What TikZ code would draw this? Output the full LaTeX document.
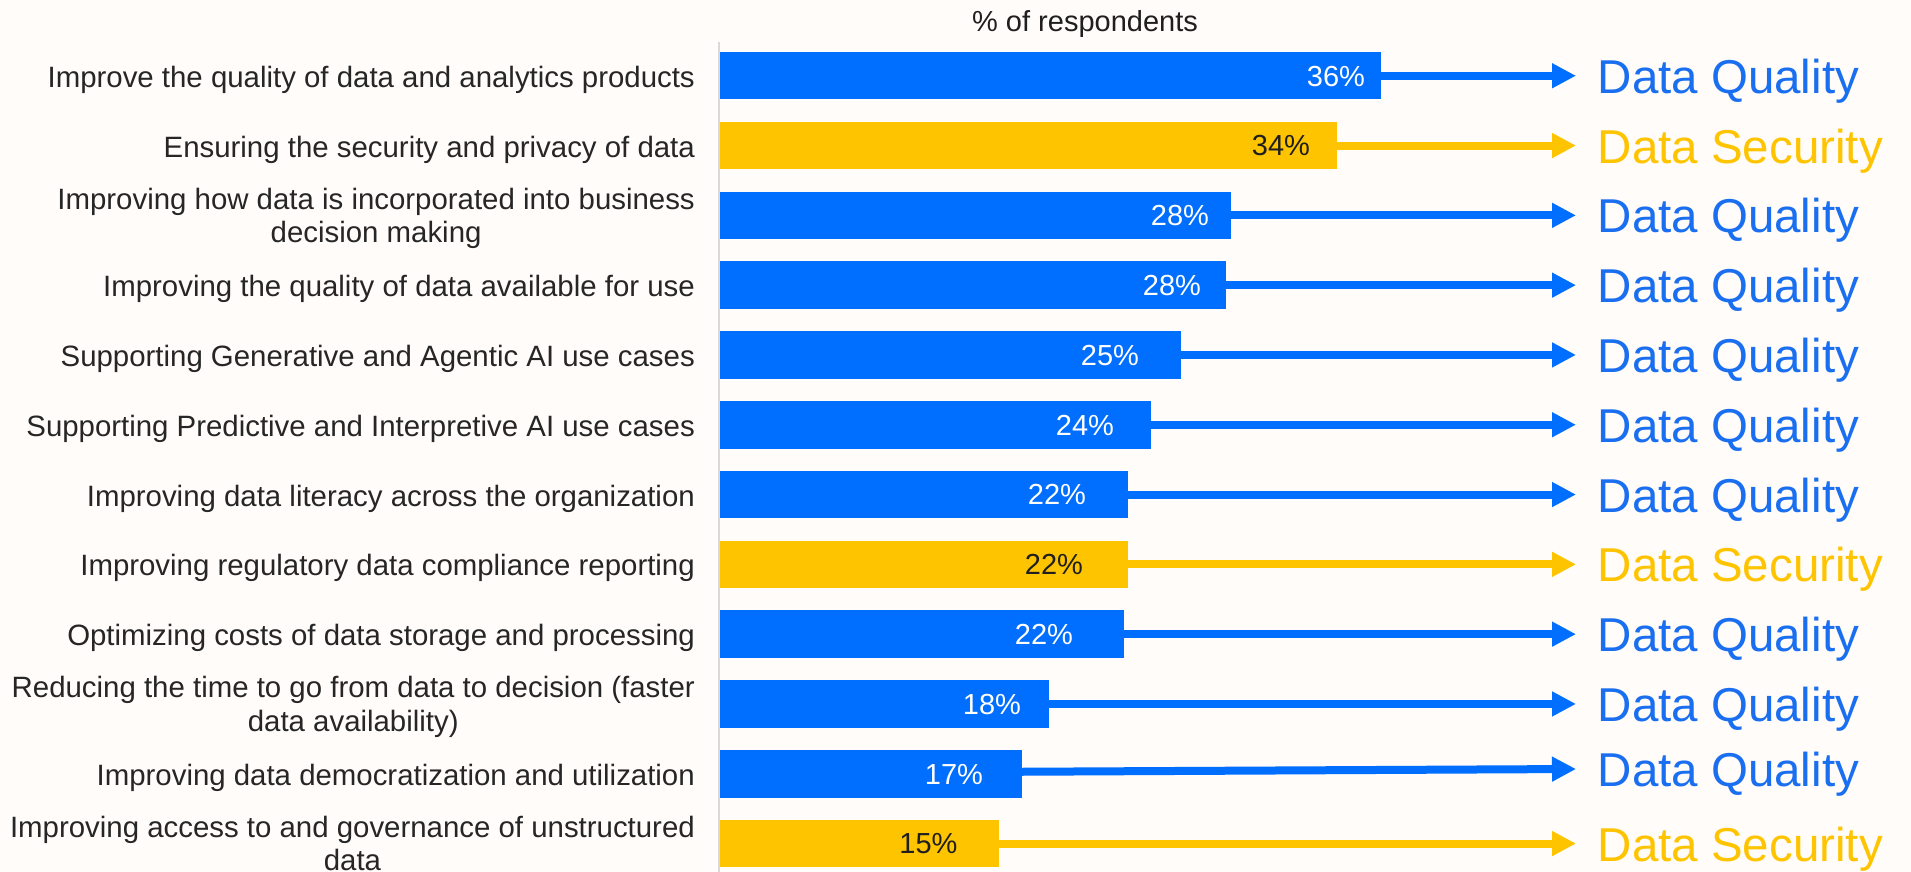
\documentclass[tikz,border=0pt]{standalone}
\usepackage{fontspec}
\setmainfont{Liberation Sans}
\usetikzlibrary{arrows.meta}
\definecolor{bg}{RGB}{255,252,249}
\definecolor{qblue}{RGB}{0,110,255}
\definecolor{qtext}{RGB}{26,111,240}
\definecolor{syellow}{RGB}{255,196,0}
\definecolor{axisgray}{RGB}{217,217,217}
\definecolor{txt}{RGB}{38,38,38}
\newcommand{\labfont}{\fontsize{29.4}{33.4}\selectfont}
\newcommand{\pctfont}{\fontsize{29}{33}\selectfont}
\newcommand{\catfont}{\fontsize{47.5}{55}\selectfont}
\begin{document}
\begin{tikzpicture}[x=1pt,y=-1pt,
  bar/.style={rectangle, inner sep=0pt, outer sep=0pt, minimum height=47.5pt, anchor=west, draw=none},
  qbar/.style={bar, fill=qblue},
  sbar/.style={bar, fill=syellow},
  pct/.style={inner sep=0pt, anchor=base, font=\pctfont},
  qpct/.style={pct, text=white},
  spct/.style={pct, text=black!88},
  lab/.style={inner sep=0pt, anchor=east, align=center, font=\labfont, text=txt},
  cat/.style={inner sep=0pt, anchor=base west, font=\catfont},
  qcat/.style={cat, text=qtext},
  scat/.style={cat, text=syellow},
  conn/.style={line width=8pt, -{Triangle[length=24pt,width=23.5pt]}},
  qconn/.style={conn, draw=qblue},
  sconn/.style={conn, draw=syellow}
]
\useasboundingbox (0,0) rectangle (1911,872);
\fill[bg] (0,0) rectangle (1911,872);

% title and axis
\node[inner sep=0pt, anchor=base, font=\pctfont, text=black!88] (title) at (1085,31.7) {\% of respondents};
\coordinate (axtop) at (719,42);
\coordinate (axbot) at (719,872);
\draw[axisgray, line width=2pt] (axtop) -- (axbot);

% row 1
\node[qbar, minimum width=661pt] (b1) at (720,75.75) {};
\node[qpct] (p1) at (1336,86.15) {36\%};
\coordinate (t1) at (1576,75.75);
\draw[qconn] (b1.east) -- (t1);
\node[qcat] (c1) at (1597.5,93.25) {Data Quality};
\node[lab] (l1) at (695,80.55) {\strut Improve the quality of data and analytics products};

% row 2
\node[sbar, minimum width=617pt] (b2) at (720,145.55) {};
\node[spct] (p2) at (1281,155.95) {34\%};
\coordinate (t2) at (1576,145.55);
\draw[sconn] (b2.east) -- (t2);
\node[scat] (c2) at (1597.5,163.05) {Data Security};
\node[lab] (l2) at (695,150.35) {\strut Ensuring the security and privacy of data};

% row 3
\node[qbar, minimum width=511pt] (b3) at (720,215.35) {};
\node[qpct] (p3) at (1180,225.75) {28\%};
\coordinate (t3) at (1576,215.35);
\draw[qconn] (b3.east) -- (t3);
\node[qcat] (c3) at (1597.5,232.85) {Data Quality};
\node[lab] (l3) at (695,219.3) {\strut Improving how data is incorporated into business\\\strut decision making};

% row 4
\node[qbar, minimum width=506pt] (b4) at (720,285.15) {};
\node[qpct] (p4) at (1172,295.55) {28\%};
\coordinate (t4) at (1576,285.15);
\draw[qconn] (b4.east) -- (t4);
\node[qcat] (c4) at (1597.5,302.65) {Data Quality};
\node[lab] (l4) at (695,289.95) {\strut Improving the quality of data available for use};

% row 5
\node[qbar, minimum width=460.7pt] (b5) at (720,354.95) {};
\node[qpct] (p5) at (1110,365.35) {25\%};
\coordinate (t5) at (1576,354.95);
\draw[qconn] (b5.east) -- (t5);
\node[qcat] (c5) at (1597.5,372.45) {Data Quality};
\node[lab] (l5) at (695,359.75) {\strut Supporting Generative and Agentic AI use cases};

% row 6
\node[qbar, minimum width=431pt] (b6) at (720,424.75) {};
\node[qpct] (p6) at (1085,435.15) {24\%};
\coordinate (t6) at (1576,424.75);
\draw[qconn] (b6.east) -- (t6);
\node[qcat] (c6) at (1597.5,442.25) {Data Quality};
\node[lab] (l6) at (695,429.55) {\strut Supporting Predictive and Interpretive AI use cases};

% row 7
\node[qbar, minimum width=407.7pt] (b7) at (720,494.55) {};
\node[qpct] (p7) at (1057,504.95) {22\%};
\coordinate (t7) at (1576,494.55);
\draw[qconn] (b7.east) -- (t7);
\node[qcat] (c7) at (1597.5,512.05) {Data Quality};
\node[lab] (l7) at (695,499.35) {\strut Improving data literacy across the organization};

% row 8
\node[sbar, minimum width=407.7pt] (b8) at (720,564.35) {};
\node[spct] (p8) at (1054,574.75) {22\%};
\coordinate (t8) at (1576,564.35);
\draw[sconn] (b8.east) -- (t8);
\node[scat] (c8) at (1597.5,581.85) {Data Security};
\node[lab] (l8) at (695,569.15) {\strut Improving regulatory data compliance reporting};

% row 9
\node[qbar, minimum width=403.7pt] (b9) at (720,634.15) {};
\node[qpct] (p9) at (1044,644.55) {22\%};
\coordinate (t9) at (1576,634.15);
\draw[qconn] (b9.east) -- (t9);
\node[qcat] (c9) at (1597.5,651.65) {Data Quality};
\node[lab] (l9) at (695,638.95) {\strut Optimizing costs of data storage and processing};

% row 10
\node[qbar, minimum width=329pt] (b10) at (720,703.95) {};
\node[qpct] (p10) at (992,714.35) {18\%};
\coordinate (t10) at (1576,703.95);
\draw[qconn] (b10.east) -- (t10);
\node[qcat] (c10) at (1597.5,721.45) {Data Quality};
\node[lab] (l10) at (695,707.9) {\strut Reducing the time to go from data to decision (faster\\\strut data availability)};

% row 11
\node[qbar, minimum width=301.7pt] (b11) at (720,773.75) {};
\node[qpct] (p11) at (954,784.15) {17\%};
\coordinate (t11) at (1576,769);
\draw[qconn] ([yshift=2pt]b11.east) -- (t11);
\node[qcat] (c11) at (1597.5,786.5) {Data Quality};
\node[lab] (l11) at (695,778.55) {\strut Improving data democratization and utilization};

% row 12
\node[sbar, minimum width=279pt] (b12) at (720,843.55) {};
\node[spct] (p12) at (928.5,853.95) {15\%};
\coordinate (t12) at (1576,843.55);
\draw[sconn] (b12.east) -- (t12);
\node[scat] (c12) at (1597.5,861.05) {Data Security};
\node[lab] (l12) at (695,847.5) {\strut Improving access to and governance of unstructured\\\strut data};
\end{tikzpicture}
\end{document}
